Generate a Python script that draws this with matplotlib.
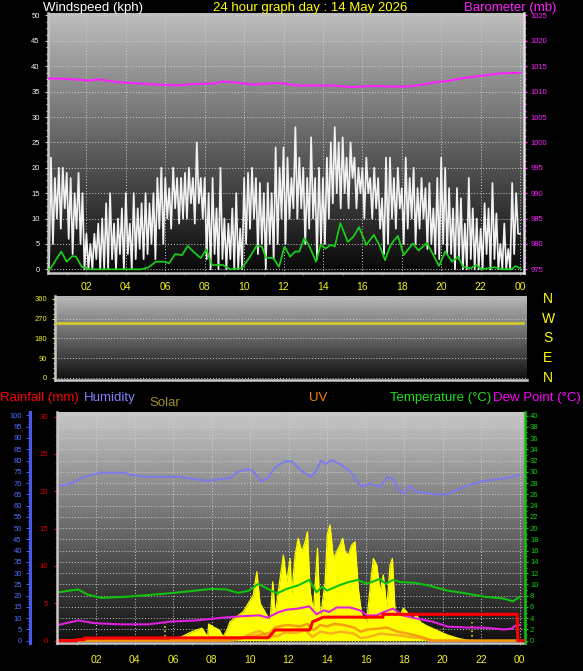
import numpy as np
import matplotlib
matplotlib.use("Agg")
import matplotlib.pyplot as plt
import matplotlib.transforms as mtransforms
from matplotlib.ticker import MultipleLocator, AutoMinorLocator, FixedLocator

plt.rcParams['font.family'] = ['Liberation Sans', 'DejaVu Sans']

W, H = 583, 671

# ---------------- data ----------------
day_title = '24 hour graph day : 14 May 2026'
hour_ticks = [2, 4, 6, 8, 10, 12, 14, 16, 18, 20, 22, 24]
hour_labels = ['02', '04', '06', '08', '10', '12', '14', '16', '18', '20', '22', '00']

# wind gusts, one reading every 6 minutes from 00:00 to 24:00 (kph)
wind_gust = [
    7, 0, 22, 5, 18, 10, 20, 8, 20, 12,
    19, 6, 18, 3, 15, 8, 19, 5, 15, 0,
    7, 0, 5, 0, 7, 2, 9, 0, 10, 0,
    13, 0, 15, 2, 9, 0, 10, 3, 12, 0,
    15, 3, 9, 0, 15, 2, 12, 4, 13, 2,
    15, 3, 13, 5, 15, 2, 18, 8, 20, 5,
    18, 10, 16, 8, 20, 12, 18, 9, 18, 10,
    19, 10, 20, 13, 18, 9, 25, 13, 18, 10,
    18, 2, 15, 0, 18, 3, 12, 0, 20, 2,
    10, 0, 9, 2, 12, 0, 15, 0, 8, 0,
    18, 5, 19, 8, 20, 10, 18, 3, 17, 5,
    15, 0, 17, 5, 15, 2, 24, 5, 20, 10,
    24, 5, 22, 10, 18, 12, 28, 10, 22, 12,
    20, 5, 18, 8, 26, 10, 18, 2, 20, 5,
    18, 5, 22, 10, 25, 13, 28, 15, 25, 12,
    26, 15, 22, 12, 25, 18, 22, 12, 20, 15,
    20, 10, 22, 15, 18, 10, 20, 12, 18, 8,
    14, 3, 22, 5, 22, 10, 18, 8, 20, 12,
    16, 5, 22, 8, 18, 10, 20, 5, 16, 8,
    18, 10, 16, 4, 17, 5, 12, 3, 18, 2,
    22, 5, 20, 3, 16, 3, 12, 0, 16, 2,
    14, 0, 9, 0, 18, 2, 12, 0, 10, 0,
    8, 0, 13, 3, 12, 0, 17, 2, 11, 0,
    5, 0, 9, 0, 4, 0, 17, 3, 15, 7,
    7,
]

avg_h = [0.0, 0.15, 0.72, 1.0, 1.28, 1.47, 1.76, 2.13, 3.3, 4.8,
         5.15, 5.53, 5.9, 6.2, 6.5, 6.85, 7.14, 7.42, 7.8, 8.08,
         8.37, 8.93, 9.3, 9.88, 10.25, 10.63, 10.9, 11.1, 11.48, 11.77,
         12.05, 12.33, 12.6, 12.8, 13.05, 13.28, 13.65, 13.88, 14.13, 14.4,
         14.6, 14.88, 15.26, 15.54, 15.83, 16.2, 16.58, 16.86, 17.15, 17.43,
         17.8, 18.1, 18.56, 18.85, 19.28, 19.6, 19.89, 20.2, 20.55, 20.87,
         21.1, 21.5, 21.78, 22.06, 22.7, 23.1, 23.57, 23.76, 24.0]
wind_avg = [0.0, 0.0, 3.5, 1.5, 2.6, 2.5, 0.5, 0.0, 0.0, 0.0,
            0.4, 1.5, 1.5, 1.2, 3.0, 2.8, 4.6, 3.5, 2.2, 3.9,
            0.85, 0.85, 0.0, 0.2, 2.2, 4.6, 4.5, 2.3, 2.2, 0.5,
            4.5, 2.5, 3.5, 3.5, 6.1, 4.8, 1.5, 4.8, 4.1, 4.8,
            4.5, 9.1, 5.4, 6.4, 8.3, 4.8, 6.8, 4.8, 1.8, 4.8,
            6.6, 2.8, 5.1, 3.7, 5.2, 2.8, 0.65, 3.5, 1.5, 2.5,
            0.5, 0.2, 0.85, 0.0, 0.4, 0.0, 0.0, 0.65, 0.2]

baro_h = [0.09, 1.0, 2.1, 2.6, 3.5, 5.1, 6.0, 6.65, 7.5, 8.5, 8.9, 9.6,
          10.4, 11.2, 11.8, 12.7, 13.5, 14.5, 15.4, 16.5, 17.5, 18.3,
          19.1, 19.6, 20.3, 21.2, 22.2, 23.0, 24.0]
baro = [1012.6, 1012.5, 1012.2, 1012.4, 1011.9, 1011.5, 1011.3, 1011.25,
        1011.5, 1011.6, 1012.0, 1011.8, 1011.4, 1011.6, 1011.7, 1011.2,
        1011.2, 1011.2, 1010.9, 1011.1, 1011.0, 1011.0, 1011.4, 1011.8,
        1012.1, 1012.7, 1013.2, 1013.6, 1013.7]

dir_h = [0, 24]
wind_dir = [248, 248]
compass_labels = ['N', 'W', 'S', 'E', 'N']
compass_deg = [360, 270, 180, 90, 0]

hum_h = [0.04, 0.62, 1.4, 2.27, 3.53, 3.73, 4.7, 6.26, 7.0, 7.8,
         8.6, 8.97, 9.4, 9.9, 10.14, 10.6, 10.9, 11.3, 11.8, 12.18,
         12.67, 13.15, 13.4, 13.68, 13.93, 14.22, 14.61, 15.19, 15.78, 16.17,
         16.75, 17.14, 17.43, 17.72, 18.01, 18.3, 18.6, 19.66, 20.25, 20.83,
         21.41, 22.19, 23.36, 24.0]
humidity = [68.8, 69.5, 72.8, 74.6, 74.6, 73.7, 72.8, 72.8, 71.9, 71.0,
            71.9, 72.2, 75.1, 76.2, 75.4, 70.7, 72.2, 76.9, 79.6, 79.6,
            75.4, 72.8, 74.7, 79.9, 78.4, 80.2, 78.7, 75.4, 68.3, 69.8,
            68.3, 72.8, 71.7, 66.8, 65.3, 68.8, 66.2, 65.0, 65.0, 67.3,
            69.2, 71.0, 72.2, 73.7]

temp_h = [0.04, 1.08, 1.56, 2.27, 3.53, 4.7, 6.06, 8.0, 8.78, 9.37,
          9.95, 10.43, 10.92, 11.4, 11.9, 12.48, 13.07, 13.45, 13.75, 14.0,
          14.6, 15.1, 15.58, 16.07, 16.75, 17.04, 17.43, 17.82, 18.5, 19.28,
          20.25, 21.22, 22.19, 23.16, 23.65, 24.0]
temperature = [8.6, 9.1, 8.2, 7.6, 7.8, 8.1, 8.5, 9.2, 9.1, 8.5,
               8.9, 10.1, 9.2, 8.4, 9.2, 9.8, 10.8, 8.6, 9.6, 8.9,
               9.8, 10.4, 10.8, 10.1, 11.0, 10.1, 10.8, 10.4, 10.3, 9.8,
               8.9, 8.4, 7.8, 7.5, 7.0, 7.8]

dew_h = [0.04, 1.08, 1.95, 3.3, 4.7, 5.87, 7.2, 8.6, 9.56, 10.5,
         10.9, 11.5, 11.9, 12.48, 13.07, 13.45, 13.84, 14.1, 14.5, 15.19,
         15.7, 16.07, 16.56, 16.95, 17.43, 17.91, 18.7, 19.47, 20.25, 21.22,
         22.19, 23.16, 23.55, 23.84, 24.0]
dew_point = [2.8, 3.6, 3.1, 2.9, 2.9, 3.4, 3.6, 4.1, 4.35, 4.5,
             4.1, 5.1, 5.5, 5.7, 6.1, 4.7, 5.4, 5.1, 5.9, 5.9,
             5.4, 4.5, 4.5, 5.1, 5.7, 4.5, 3.9, 3.4, 2.5, 2.35,
             2.3, 2.0, 2.1, 2.8, 2.8]

rain_h = [0.0, 1.0, 1.0, 1.4, 1.4, 10.95, 11.3, 13.1, 13.25, 13.5, 13.8,
          16.9, 16.9, 23.87, 23.9, 24.2]
rain_mm = [0.0, 0.0, 0.15, 0.15, 0.35, 0.4, 1.43, 1.45, 2.55, 2.8, 3.15,
           3.15, 3.53, 3.53, 0.0, 0.0]

solar_h = [0, 5.7, 6.26, 7.0, 7.5, 7.8, 7.85, 8.1, 8.4, 8.6, 8.8,
           8.96, 9.31, 9.65, 9.91, 10.17, 10.35, 10.52, 10.87, 11.04, 11.18,
           11.3, 11.56, 11.73, 11.9, 12.08, 12.16, 12.34, 12.5, 12.68, 12.86,
           12.98, 13.12, 13.29, 13.5, 13.64, 13.9, 14.01, 14.15, 14.33, 14.5,
           14.67, 14.81, 14.93, 15.1, 15.28, 15.45, 15.62, 15.8, 16.06, 16.23,
           16.4, 16.58, 16.75, 16.92, 17.1, 17.27, 17.39, 17.53, 17.79, 17.96,
           18.13, 18.4, 18.66, 18.83,
           19.1, 19.66, 20.25, 20.83, 21.41, 24.0]
solar = [0, 0, 10, 40, 55, 17, 73, 60, 47, 17, 47,
         83, 105, 127, 164, 200, 302, 164, 112, 83, 258,
         112, 273, 375, 258, 360, 200, 375, 448, 390, 433,
         477, 215, 127, 405, 94, 258, 463, 507, 360, 390,
         419, 448, 390, 375, 419, 433, 229, 112, 83, 229,
         360, 331, 215, 288, 142, 331, 360, 127, 112, 142,
         127, 94, 112, 83,
         68, 47, 25, 10, 0, 0]

uv_h = [0, 8.43, 9.12, 10.17, 11.04, 11.3, 11.65, 12.0, 12.6, 12.96,
        13.3, 13.65, 14.0, 14.35, 14.87, 15.4, 15.74, 16.1, 16.6, 17.1,
        17.66, 18.2, 18.9, 19.5, 24.0]
uv_index = [0, 0, 0.15, 0.6, 1.05, 1.75, 2.0, 2.1, 1.9, 2.25,
            1.4, 2.1, 1.9, 2.25, 2.1, 1.75, 1.2, 1.5, 1.6, 1.75,
            1.2, 0.95, 0.5, 0.0, 0.0]
uv2_h = [0, 9.0, 9.47, 10.17, 10.52, 10.87, 11.4, 11.75, 12.44, 12.88,
         13.24, 13.65, 14.2, 14.7, 15.4, 15.74, 16.1, 16.8, 17.3, 17.8,
         18.3, 18.9, 19.3, 24.0]
uv_avg = [0, 0, 0.23, 1.05, 1.3, 0.6, 0.6, 1.05, 1.05, 1.4,
          0.5, 1.2, 0.95, 1.2, 0.95, 0.35, 0.47, 0.95, 0.8, 0.7,
          0.47, 0.35, 0.0, 0.0]

sun_events = [5.6, 21.5]   # sunrise / sunset markers


# ---------------- helpers ----------------
def rect(left, top, right, bottom):
    return [left / W, 1 - bottom / H, (right - left) / W, (bottom - top) / H]


def backdrop(ax, top, bottom):
    shade = np.linspace(top, bottom, 256).reshape(-1, 1)
    ax.imshow(shade, cmap='gray', vmin=0, vmax=1, aspect='auto',
              extent=(0, 1, 0, 1), transform=ax.transAxes, zorder=0)


def hour_axis(ax, pad):
    ax.xaxis.set_major_locator(FixedLocator(hour_ticks))
    ax.set_xticklabels(hour_labels)
    ax.xaxis.set_minor_locator(MultipleLocator(1))
    ax.tick_params(axis='x', which='both', colors='#707070', labelcolor='#f0f020',
                   labelsize=7.5, length=1.5, width=0.8, pad=pad)


gridstyle = dict(color='#d0d0d0', linestyle=(0, (1, 2)), linewidth=0.7)

fig = plt.figure(figsize=(W / 100, H / 100), dpi=100, facecolor='black')

# ---------------- panel 1 : wind speed + barometer ----------------
ax1 = fig.add_axes(rect(48, 13.3, 524, 272.7))
backdrop(ax1, 0.74, 0.03)
gust_h = np.linspace(0, 24, len(wind_gust))
ax1.plot(gust_h, wind_gust, color='#f2f2f2', lw=1.25, zorder=2)
ax1.plot(avg_h, wind_avg, color='#18d018', lw=1.25, zorder=3)
ax1.set_xlim(0.05, 24.2)
ax1.set_ylim(-0.67, 50.43)
ax1.yaxis.set_major_locator(MultipleLocator(5))
ax1.yaxis.set_minor_locator(AutoMinorLocator(4))
ax1.tick_params(axis='y', which='both', colors='#c8c8c8', labelcolor='#eef2ff',
                labelsize=5.5, width=0.8, pad=3.5)
ax1.tick_params(axis='y', which='major', length=2.5)
ax1.tick_params(axis='y', which='minor', length=1.5)
hour_axis(ax1, 5.5)
ax1.grid(True, which='major', **gridstyle)
for name, sp in ax1.spines.items():
    sp.set_color('#c8c8c8')
    sp.set_linewidth(1.8)
ax1.spines['top'].set_visible(False)
ax1.spines['right'].set_visible(False)

ax1b = ax1.twinx()
ax1b.plot(baro_h, baro, color='#ff22ff', lw=1.5)
ax1b.set_ylim(975 - 0.67, 1025 + 0.43)
ax1b.yaxis.set_major_locator(MultipleLocator(5))
ax1b.yaxis.set_minor_locator(AutoMinorLocator(4))
ax1b.tick_params(axis='y', which='both', colors='#ff22ff', labelcolor='#ff22ff',
                 labelsize=5.5, width=1, pad=3)
ax1b.tick_params(axis='y', which='major', length=2)
ax1b.tick_params(axis='y', which='minor', length=1.5)
for name in ['left', 'top', 'bottom']:
    ax1b.spines[name].set_visible(False)
ax1b.spines['right'].set_color('#e0e0e0')
ax1b.spines['right'].set_linewidth(1.8)

fig.text(43.3 / W, 1 - 11 / H, 'Windspeed (kph)', color='white', fontsize=9.5, va='baseline')
fig.text(310 / W, 1 - 11 / H, day_title, color='#ffff00', fontsize=9.5, va='baseline', ha='center')
fig.text(556 / W, 1 - 11 / H, 'Barometer (mb)', color='#ff22ff', fontsize=9.5, va='baseline', ha='right')

# ---------------- panel 2 : wind direction ----------------
ax2 = fig.add_axes(rect(55, 296, 527, 380))
backdrop(ax2, 0.72, 0.06)
ax2.plot(dir_h, wind_dir, color='#d8d020', lw=1.8, zorder=3)
ax2.set_xlim(0, 24.2)
ax2.set_ylim(-10.5, 373.7)
ax2.yaxis.set_major_locator(FixedLocator([0, 90, 180, 270, 360]))
ax2.yaxis.set_minor_locator(MultipleLocator(22.5))
ax2.tick_params(axis='y', which='both', colors='#e0e020', labelcolor='#f0f020',
                labelsize=5.5, width=0.8, pad=3)
ax2.tick_params(axis='y', which='major', length=2.5)
ax2.tick_params(axis='y', which='minor', length=1.5)
ax2.set_xticks([])
ax2.grid(True, axis='y', **gridstyle)
for name, sp in ax2.spines.items():
    sp.set_color('#c8c8c8')
    sp.set_linewidth(1.8)
ax2.spines['top'].set_visible(False)
ax2.spines['right'].set_visible(False)
compass_tr = mtransforms.blended_transform_factory(fig.transFigure, ax2.transData)
for lab, deg in zip(compass_labels, compass_deg):
    ax2.text(548 / W, deg, lab, transform=compass_tr, color='#ffff00', fontsize=10,
             ha='center', va='center')

# ---------------- panel 3 : rain, humidity, solar, uv, temperature ----------------
ax3 = fig.add_axes(rect(56.5, 412.3, 524.5, 643))
backdrop(ax3, 0.78, 0.06)
ax3.plot(hum_h, humidity, color='#7b7bf0', lw=1.4, zorder=3)
ax3.set_xlim(-0.05, 24.25)
ax3.set_ylim(-1.0, 101.4)
ax3.yaxis.set_major_locator(MultipleLocator(5))
ax3.yaxis.set_minor_locator(AutoMinorLocator(4))
ax3.tick_params(axis='y', which='both', colors='#4858e8', labelcolor='#5070ff',
                labelsize=5.5, width=0.8, pad=3)
ax3.tick_params(axis='y', which='major', length=3)
ax3.tick_params(axis='y', which='minor', length=1.8)
hour_axis(ax3, 7)
ax3.grid(True, which='major', **gridstyle)
ax3.spines['left'].set_position(('outward', 19))
ax3.spines['left'].set_color('#4858e8')
ax3.spines['left'].set_linewidth(2.2)
ax3.spines['bottom'].set_color('#c8c8c8')
ax3.spines['bottom'].set_linewidth(1.8)
ax3.spines['top'].set_visible(False)
ax3.spines['right'].set_visible(False)

ax_sol = ax3.twinx()
ax_sol.fill_between(solar_h, solar, color='#ffff00', lw=0)
ax_sol.plot(solar_h, solar, color='#ffff00', lw=0.9)
for t in sun_events:
    ax_sol.axvline(t, ymin=0.01, ymax=0.09, color='#e8e020', ls=':', lw=1.2)
ax_sol.set_ylim(-10, 1000)
ax_sol.axis('off')

ax_uv = ax3.twinx()
ax_uv.plot(uv2_h, uv_avg, color='#f5a020', lw=1.8, alpha=0.8)
ax_uv.plot(uv_h, uv_index, color='#f59010', lw=1.8, alpha=0.85)
ax_uv.set_ylim(-0.31, 30.57)
ax_uv.axis('off')

ax_t = ax3.twinx()
ax_t.plot(temp_h, temperature, color='#10c010', lw=1.5)
ax_t.plot(dew_h, dew_point, color='#e020e0', lw=1.5)
ax_t.set_ylim(-0.41, 40.57)
ax_t.yaxis.set_major_locator(MultipleLocator(2))
ax_t.yaxis.set_minor_locator(AutoMinorLocator(2))
ax_t.tick_params(axis='y', which='both', colors='#10c010', labelcolor='#10d010',
                 labelsize=5.5, width=0.8, pad=1.5)
ax_t.tick_params(axis='y', which='major', length=2.5)
ax_t.tick_params(axis='y', which='minor', length=1.5)
for name in ['left', 'top', 'bottom']:
    ax_t.spines[name].set_visible(False)
ax_t.spines['right'].set_color('#10c010')
ax_t.spines['right'].set_linewidth(1.8)

ax_rain = ax3.twinx()
ax_rain.yaxis.tick_left()
ax_rain.plot(rain_h, rain_mm, color='#ff0000', lw=2.2)
ax_rain.set_ylim(-0.31, 30.57)
ax_rain.yaxis.set_major_locator(MultipleLocator(5))
ax_rain.yaxis.set_minor_locator(AutoMinorLocator(4))
ax_rain.tick_params(axis='y', which='both', colors='#e00000', labelcolor='#e00000',
                    labelsize=5.5, width=0.8, pad=3.6)
ax_rain.tick_params(axis='y', which='major', length=2.5)
ax_rain.tick_params(axis='y', which='minor', length=1.5)
for name in ['right', 'top', 'bottom']:
    ax_rain.spines[name].set_visible(False)
ax_rain.spines['left'].set_color('#c8c8c8')
ax_rain.spines['left'].set_linewidth(1.8)

legend_row = [
    ('Rainfall (mm)', '#ff0000', 0, 401),
    ('Humidity', '#8080ff', 83.6, 401),
    ('Solar', '#a09020', 149.4, 405.5),
    ('UV', '#ff8000', 308.5, 401),
    ('Temperature (\u00b0C)', '#20e020', 389.6, 401),
    ('Dew Point (\u00b0C)', '#ff00ff', 492.6, 401),
]
for lab, col, x, y in legend_row:
    fig.text(x / W, 1 - y / H, lab, color=col, fontsize=9.5, va='baseline')

fig.savefig('out.png', dpi=100, facecolor='black')
